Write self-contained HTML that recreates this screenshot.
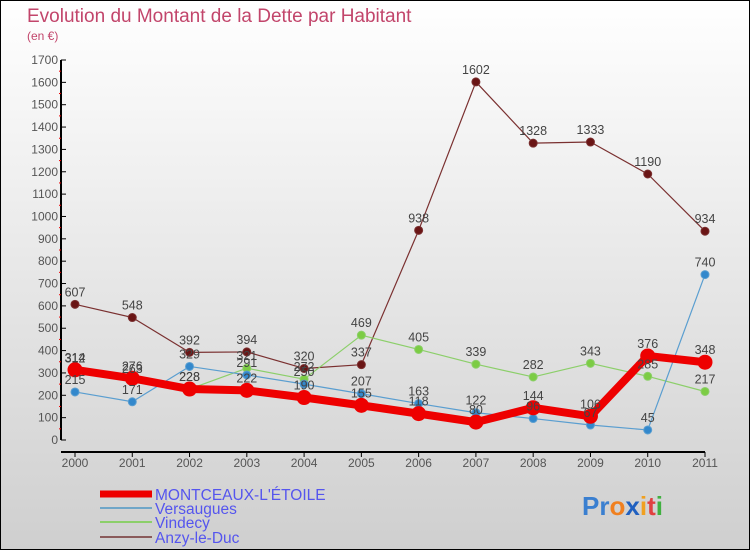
<!DOCTYPE html>
<html><head><meta charset="utf-8"><style>
body{margin:0;width:750px;height:550px;overflow:hidden;font-family:"Liberation Sans",sans-serif}
svg{display:block}
</style></head><body>
<svg id="chart" width="750" height="550">
<defs><linearGradient id="bg" x1="0" y1="0" x2="0" y2="1"><stop offset="0" stop-color="#ffffff"/><stop offset="1" stop-color="#cfcfcf"/></linearGradient></defs>
<rect x="0.5" y="0.5" width="749" height="549" fill="url(#bg)" stroke="#000"/>
<text x="27" y="22" font-size="19" fill="#c2456b">Evolution du Montant de la Dette par Habitant</text>
<text x="27" y="40" font-size="12" fill="#c2456b">(en €)</text>
<g id="axes"></g><g id="series"></g><g id="labels"></g>
<g>
<line x1="100" y1="494" x2="152" y2="494" stroke="#ee0000" stroke-width="7"/>
<text x="155" y="500" font-size="15.5" fill="#5555ee">MONTCEAUX-L'ÉTOILE</text>
<line x1="100" y1="508" x2="152" y2="508" stroke="#6fa6c8" stroke-width="2"/>
<text x="155" y="514" font-size="15.5" fill="#5555ee">Versaugues</text>
<line x1="100" y1="522" x2="152" y2="522" stroke="#8ccf6a" stroke-width="2"/>
<text x="155" y="528" font-size="15.5" fill="#5555ee">Vindecy</text>
<line x1="100" y1="537" x2="152" y2="537" stroke="#8a5a5a" stroke-width="2"/>
<text x="155" y="543" font-size="15.5" fill="#5555ee">Anzy-le-Duc</text>
</g>
<text x="582" y="515" font-size="26" font-weight="bold"><tspan fill="#3a7fd0">Pr</tspan><tspan fill="#f08020">o</tspan><tspan fill="#2060c0">x</tspan><tspan fill="#f0a020">i</tspan><tspan fill="#e04040">t</tspan><tspan fill="#40b040">i</tspan></text>
</svg>
<script>
const years=[2000,2001,2002,2003,2004,2005,2006,2007,2008,2009,2010,2011];
const montceaux=[314,276,228,222,190,155,118,80,144,106,376,348];
const versaugues=[215,171,329,291,250,207,163,122,96,67,45,740];
const vindecy=[312,263,228,321,272,469,405,339,282,343,285,217];
const anzy=[607,548,392,394,320,337,938,1602,1328,1333,1190,934];
const yTicks=[0,100,200,300,400,500,600,700,800,900,1000,1100,1200,1300,1400,1500,1600,1700];
const NS="http://www.w3.org/2000/svg";
function X(i){return 75+i*(630/11);}
function Y(v){return 440-v*(380/1700);}
function mk(tag,attrs,parent){const e=document.createElementNS(NS,tag);for(const k in attrs)e.setAttribute(k,attrs[k]);parent.appendChild(e);return e;}
const axes=document.getElementById('axes'),series=document.getElementById('series'),labels=document.getElementById('labels');
let a=mk('line',{x1:61,y1:Y(1700),x2:61,y2:440,stroke:'#000','stroke-width':2},axes);


a=mk('line',{x1:61,y1:452,x2:X(11),y2:452,stroke:'#000','stroke-width':2},axes);


yTicks.forEach(v=>{
 let t=mk('line',{x1:61,y1:Y(v),x2:66,y2:Y(v),stroke:'#000'},axes);
 
 
 if(v<1700){let m=mk('line',{x1:59,y1:Y(v+50),x2:61,y2:Y(v+50),stroke:'#e00'},axes);
 
 }
 let l=mk('text',{x:58,y:Y(v)+4,'font-size':12,'text-anchor':'end',fill:'#555'},axes);l.textContent=v;
 
 
});
years.forEach((yr,i)=>{
 let t=mk('line',{x1:X(i),y1:452,x2:X(i),y2:457,stroke:'#000'},axes);
 
 
 let l=mk('text',{x:X(i),y:467,'font-size':12,'text-anchor':'middle',fill:'#555'},axes);l.textContent=yr;
 
 
});
function draw(data,name,color,w,r,fill){
 const pts=data.map((v,i)=>X(i)+','+Y(v)).join(' ');
 let p=mk('polyline',{points:pts,fill:'none',stroke:color,'stroke-width':w,'stroke-linejoin':'round'},series);
 
 
 data.forEach((v,i)=>{
  let c=mk('circle',{cx:X(i),cy:Y(v),r:r,fill:fill,stroke:color,'stroke-width':1},series);
  
  
  let l=mk('text',{x:X(i),y:Y(v)-8,'font-size':12.5,'text-anchor':'middle',fill:'#444'},labels);l.textContent=v;
  
  
 });
}
draw(anzy,'anzy','#7a3030',1.2,4,'#6a1515');
draw(vindecy,'vindecy','#8ccf6a',1.2,4,'#7ccc44');
draw(versaugues,'versaugues','#5a9ed0',1.2,4,'#3388cc');
draw(montceaux,'montceaux','#ee0000',8,7,'#ee0000');
</script>
</body></html>
